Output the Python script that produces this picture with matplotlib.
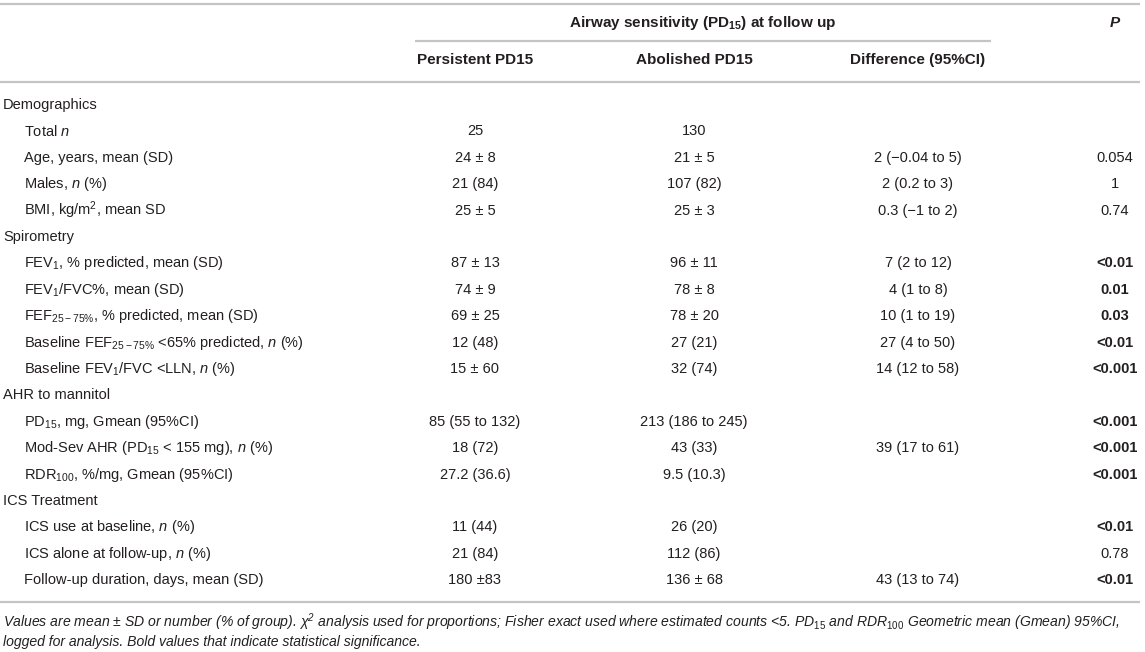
import matplotlib
matplotlib.use("Agg")
import matplotlib.pyplot as plt

plt.rcParams["font.family"] = ["Liberation Sans", "DejaVu Sans"]
plt.rcParams["mathtext.fontset"] = "custom"
plt.rcParams["mathtext.rm"] = "Liberation Sans"
plt.rcParams["mathtext.it"] = "Liberation Sans:italic"
plt.rcParams["mathtext.bf"] = "Liberation Sans:bold"
plt.rcParams["mathtext.default"] = "regular"

# table content
group_header = r"Airway sensitivity (PD$_{\mathbf{15}}$) at follow up"
col_headers = ["Persistent PD15", "Abolished PD15", "Difference (95%CI)"]
p_header = "P"

row_labels = [
    "Demographics",
    r"Total $\mathit{n}$",
    "Age, years, mean (SD)",
    r"Males, $\mathit{n}$ (%)",
    r"BMI, kg/m$^2$, mean SD",
    "Spirometry",
    r"FEV$_1$, % predicted, mean (SD)",
    r"FEV$_1$/FVC%, mean (SD)",
    r"FEF$_{25-75\%}$, % predicted, mean (SD)",
    r"Baseline FEF$_{25-75\%}$ <65% predicted, $\mathit{n}$ (%)",
    r"Baseline FEV$_1$/FVC <LLN, $\mathit{n}$ (%)",
    "AHR to mannitol",
    r"PD$_{15}$, mg, Gmean (95%CI)",
    r"Mod-Sev AHR (PD$_{15}$ < 155 mg), $\mathit{n}$ (%)",
    r"RDR$_{100}$, %/mg, Gmean (95%CI)",
    "ICS Treatment",
    r"ICS use at baseline, $\mathit{n}$ (%)",
    r"ICS alone at follow-up, $\mathit{n}$ (%)",
    "Follow-up duration, days, mean (SD)",
]
is_section = [True, False, False, False, False,
              True, False, False, False, False, False,
              True, False, False, False,
              True, False, False, False]

persistent = ["", "25", "24 ± 8", "21 (84)", "25 ± 5",
              "", "87 ± 13", "74 ± 9", "69 ± 25", "12 (48)", "15 ± 60",
              "", "85 (55 to 132)", "18 (72)", "27.2 (36.6)",
              "", "11 (44)", "21 (84)", "180 ±83"]
abolished = ["", "130", "21 ± 5", "107 (82)", "25 ± 3",
             "", "96 ± 11", "78 ± 8", "78 ± 20", "27 (21)", "32 (74)",
             "", "213 (186 to 245)", "43 (33)", "9.5 (10.3)",
             "", "26 (20)", "112 (86)", "136 ± 68"]
difference = ["", "", "2 (−0.04 to 5)", "2 (0.2 to 3)", "0.3 (−1 to 2)",
              "", "7 (2 to 12)", "4 (1 to 8)", "10 (1 to 19)", "27 (4 to 50)", "14 (12 to 58)",
              "", "", "39 (17 to 61)", "",
              "", "", "", "43 (13 to 74)"]
p_values = ["", "", "0.054", "1", "0.74",
            "", "<0.01", "0.01", "0.03", "<0.01", "<0.001",
            "", "<0.001", "<0.001", "<0.001",
            "", "<0.01", "0.78", "<0.01"]
significant = ["", "", False, False, False,
               "", True, True, True, True, True,
               "", True, True, True,
               "", True, False, True]

footnote = [
    r"Values are mean ± SD or number (% of group). χ$^{2}$ analysis used for proportions; Fisher exact used where estimated counts <5. "
    r"$\mathit{PD}_{\mathit{15}}$ and $\mathit{RDR}_{\mathit{100}}$ Geometric mean (Gmean) 95%CI,",
    "logged for analysis. Bold values that indicate statistical significance.",
]

# layout (pixels)
W, H = 1145, 652
col_x = [475, 694, 918]
p_x = 1115
row_y0, row_dy = 105, 26.4
txt_color = "#231f20"
line_color = "#c4c4c4"
fs = 10.5

fig = plt.figure(figsize=(W / 100, H / 100), dpi=100)
ax = fig.add_axes([0, 0, 1, 1])
ax.set_xlim(0, W)
ax.set_ylim(H, 0)
ax.axis("off")

# rules
for x0, x1, y in [(0, 1140, 4), (415, 991, 41), (0, 1140, 82), (0, 1140, 602)]:
    ax.plot([x0, x1], [y, y], color=line_color, lw=1.6, solid_capstyle="butt")

# header
ax.text((415 + 991) / 2, 23, group_header, ha="center", va="center",
        fontsize=fs + 0.5, fontweight="bold", color=txt_color)
ax.text(p_x, 23, p_header, ha="center", va="center", fontsize=fs + 0.5,
        fontweight="bold", fontstyle="italic", color=txt_color)
for x, h in zip(col_x, col_headers):
    ax.text(x, 60, h, ha="center", va="center", fontsize=fs + 0.5,
            fontweight="bold", color=txt_color)

# body
for i, label in enumerate(row_labels):
    y = row_y0 + i * row_dy
    ax.text(3 if is_section[i] else 24, y, label, ha="left", va="center",
            fontsize=fs, color=txt_color)
    for x, col in zip(col_x, [persistent, abolished, difference]):
        if col[i]:
            ax.text(x, y, col[i], ha="center", va="center", fontsize=fs, color=txt_color)
    if p_values[i]:
        ax.text(p_x, y, p_values[i], ha="center", va="center", fontsize=fs,
                fontweight="bold" if significant[i] else "normal", color=txt_color)

# footnote
for k, line in enumerate(footnote):
    ax.text(3, 622 + k * 20, line, ha="left", va="center", fontsize=10.1,
            fontstyle="italic", color=txt_color)

fig.savefig("out.png", dpi=100)
